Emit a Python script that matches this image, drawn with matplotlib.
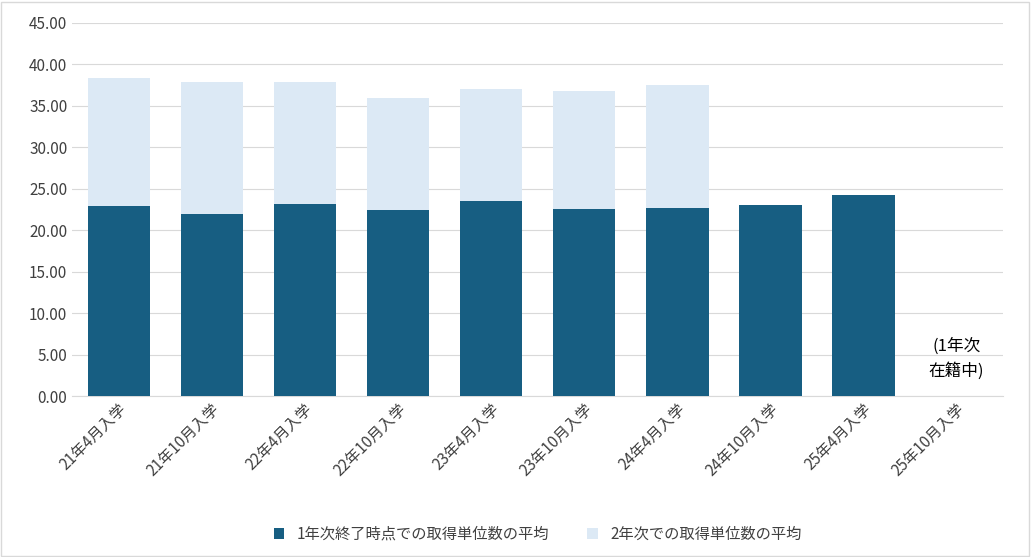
import matplotlib
matplotlib.use("Agg")
import matplotlib.pyplot as plt
import numpy as np

plt.rcParams['font.family'] = ['Noto Sans CJK JP', 'DejaVu Sans']

categories = ["21年4月入学", "21年10月入学", "22年4月入学", "22年10月入学", "23年4月入学",
              "23年10月入学", "24年4月入学", "24年10月入学", "25年4月入学", "25年10月入学"]
year1 = [22.9, 21.9, 23.2, 22.4, 23.5, 22.6, 22.7, 23.0, 24.2, 0]
year2 = [15.5, 16.0, 14.7, 13.5, 13.5, 14.2, 14.8, 0, 0, 0]
yticks = np.arange(0, 50, 5)

fig = plt.figure(figsize=(10.31, 5.57), dpi=100)
ax = fig.add_axes([0.070, 0.289, 0.903, 0.670])
x = np.arange(len(categories))
ax.bar(x, year1, width=0.67, color="#175E82", label="1年次終了時点での取得単位数の平均", zorder=3)
ax.bar(x, year2, width=0.67, bottom=year1, color="#DCE9F5", label="2年次での取得単位数の平均", zorder=3)
ax.set_xlim(-0.5, len(categories) - 0.5)
ax.set_ylim(0, 45)
ax.set_yticks(yticks)
ax.set_yticklabels([f"{v:.2f}" for v in yticks], fontsize=11, color="#404040")
ax.grid(axis="y", color="#D9D9D9", linewidth=0.8, zorder=0)
for s in ["top", "right", "left"]:
    ax.spines[s].set_visible(False)
ax.spines["bottom"].set_color("#D9D9D9")
ax.tick_params(axis="y", length=0)
ax.tick_params(axis="x", length=0)
ax.set_xticks(x)
ax.set_xticklabels(categories, rotation=45, ha="right", rotation_mode="anchor", fontsize=11, color="#404040")
ax.text(9, 4.5, "(1年次\n在籍中)", ha="center", va="center", fontsize=12, color="#000000", linespacing=1.5)
ax.legend(loc="lower center", bbox_to_anchor=(0.5, -0.43), ncol=2, frameon=False, fontsize=11,
          handlelength=0.7, handleheight=0.7, columnspacing=2.5, labelcolor="#404040")
fig.patches.append(plt.Rectangle((0.001, 0.002), 0.997, 0.995, transform=fig.transFigure,
                                 fill=False, edgecolor="#D9D9D9", linewidth=1))
fig.savefig("out.png", dpi=100)
